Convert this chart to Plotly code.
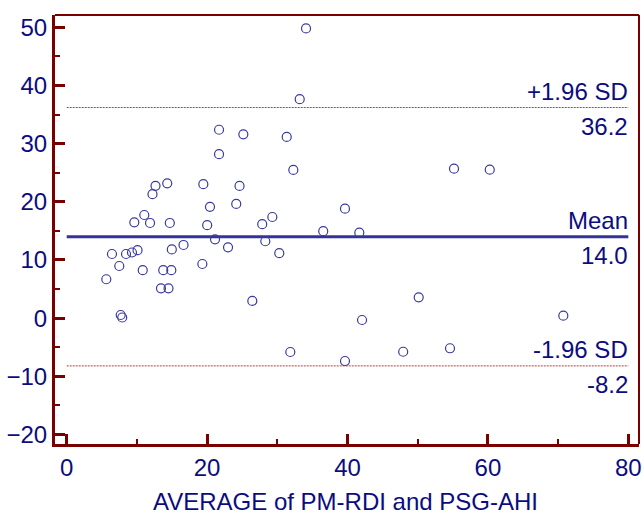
import plotly.graph_objects as go

# Bland-Altman data: average (x) vs difference (y)
avg_vals = [5.64, 6.45, 7.49, 7.69, 7.91, 8.45, 9.30, 10.09, 9.63, 10.83,
            11.05, 11.87, 12.22, 12.65, 13.43, 13.75, 14.32, 14.50, 14.69, 14.90,
            14.97, 16.64, 19.32, 19.46, 20.01, 20.41, 21.13, 21.70, 21.70, 22.98,
            24.15, 24.62, 25.16, 26.44, 27.85, 28.29, 29.29, 30.28, 31.34, 31.85,
            32.28, 33.19, 34.09, 36.54, 39.64, 39.64, 41.68, 42.07, 47.93, 50.14,
            54.60, 55.17, 60.26, 70.74]
diff_vals = [6.69, 11.03, 8.97, 0.55, 0.12, 11.03, 11.29, 11.69, 16.48, 8.25,
             17.73, 16.36, 21.31, 22.75, 5.14, 8.25, 23.18, 5.14, 16.36, 8.25,
             11.81, 12.58, 9.31, 23.03, 15.98, 19.14, 13.56, 28.18, 32.38, 12.18,
             19.63, 22.72, 31.60, 2.96, 16.15, 13.22, 17.39, 11.17, 31.14, -5.81,
             25.47, 37.64, 49.79, 14.95, 18.82, -7.36, 14.69, -0.31, -5.77, 3.59,
             -5.17, 25.69, 25.52, 0.43]

mean_diff = 14.0
upper_loa = 36.2
lower_loa = -8.2
line_x = [0, 80]

x_ticks = [0, 20, 40, 60, 80]
y_ticks = [-20, -10, 0, 10, 20, 30, 40, 50]
x_title = "AVERAGE of PM-RDI and PSG-AHI"

AX = "#7a0000"
TXT = "#0c0c80"
MK = "#3a3aa0"
FONT = "Liberation Sans, Arial, sans-serif"

fig = go.Figure()
fig.add_trace(go.Scatter(x=line_x, y=[upper_loa, upper_loa], mode="lines",
                         line=dict(color="#b04040", width=1, dash="2px,1px"), hoverinfo="skip"))
fig.add_trace(go.Scatter(x=line_x, y=[lower_loa, lower_loa], mode="lines",
                         line=dict(color="#b04040", width=1, dash="2px,1px"), hoverinfo="skip"))
fig.add_trace(go.Scatter(x=line_x, y=[mean_diff, mean_diff], mode="lines",
                         line=dict(color="#333399", width=3), hoverinfo="skip"))
fig.add_trace(go.Scatter(x=avg_vals, y=diff_vals, mode="markers",
                         marker=dict(symbol="circle-open", size=9, color=MK,
                                     line=dict(width=1.2, color=MK))))

def label(y, text, above):
    fig.add_annotation(x=80, y=y, text=text, showarrow=False, xanchor="right",
                       yanchor="middle", yshift=16 if above else -19, xshift=2,
                       font=dict(family=FONT, size=24, color=TXT))

label(upper_loa, "+1.96 SD", True)
label(upper_loa, f"{upper_loa:.1f}", False)
label(mean_diff, "Mean", True)
label(mean_diff, f"{mean_diff:.1f}", False)
label(lower_loa, "-1.96 SD", True)
label(lower_loa, f"{lower_loa:.1f}", False)

# x-axis title as paper annotation
fig.add_annotation(x=0.497, y=-0.168, xref="paper", yref="paper", text=x_title,
                   showarrow=False, xanchor="center", yanchor="bottom", borderpad=0,
                   font=dict(family=FONT, size=24, color=TXT))

# top and right frame lines (thinner)
fig.add_shape(type="line", xref="paper", yref="paper", x0=0, x1=1, y0=1, y1=1,
              line=dict(color=AX, width=2))
fig.add_shape(type="line", xref="paper", yref="paper", x0=1, x1=1, y0=0, y1=1,
              line=dict(color=AX, width=2))

fig.update_layout(
    width=644, height=517,
    margin=dict(l=55, r=5, t=15, b=73),
    paper_bgcolor="white", plot_bgcolor="white",
    showlegend=False,
    font=dict(family=FONT, size=24, color=TXT),
    xaxis=dict(range=[-1.667, 81.52], tickvals=x_ticks, ticks="inside", ticklen=10,
               tickwidth=3, tickcolor=AX, showline=True, linecolor=AX, linewidth=3,
               showgrid=False, zeroline=False, automargin=False,
               minor=dict(tickvals=[10, 30, 50, 70], ticks="inside", ticklen=5,
                          tickwidth=2, tickcolor=AX, showgrid=False),
               tickfont=dict(size=24, color=TXT)),
    yaxis=dict(range=[-21.62, 52.10], tickvals=y_ticks, ticks="inside", ticklen=10,
               tickwidth=3, tickcolor=AX, showline=True, linecolor=AX, linewidth=3,
               showgrid=False, zeroline=False, automargin=False,
               minor=dict(tickvals=[-15, -5, 5, 15, 25, 35, 45], ticks="inside",
                          ticklen=5, tickwidth=2, tickcolor=AX, showgrid=False),
               tickfont=dict(size=24, color=TXT)),
)

fig.write_html("out.html")
